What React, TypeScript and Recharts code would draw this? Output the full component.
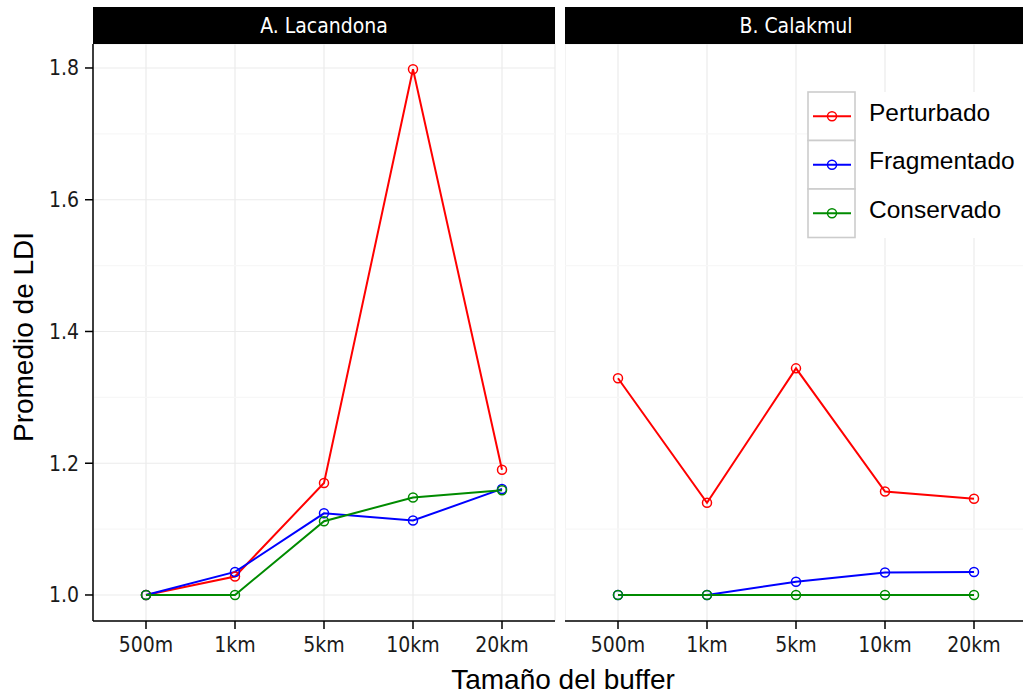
import { LineChart, Line, XAxis, YAxis, CartesianGrid, ReferenceLine } from "recharts"

const categories = ["500m", "1km", "5km", "10km", "20km"]
const seriesNames = ["Perturbado", "Fragmentado", "Conservado"]
const seriesColors = ["#ff0000", "#0000ff", "#008b00"]

const lacandonaPerturbado = [1.0, 1.028, 1.17, 1.798, 1.19]
const lacandonaFragmentado = [1.0, 1.035, 1.124, 1.113, 1.161]
const lacandonaConservado = [1.0, 1.0, 1.112, 1.148, 1.159]

const calakmulPerturbado = [1.329, 1.14, 1.344, 1.157, 1.146]
const calakmulFragmentado = [1.0, 1.0, 1.02, 1.034, 1.035]
const calakmulConservado = [1.0, 1.0, 1.0, 1.0, 1.0]

const yTicks = [1.0, 1.2, 1.4, 1.6, 1.8]
const yMinor = [1.1, 1.3, 1.5, 1.7]
const yDomain = [0.9605, 1.8364]

const tickFont = "'DejaVu Sans Condensed', 'DejaVu Sans', sans-serif"
const titleFont = "'Liberation Sans', Arial, sans-serif"

function buildRows(p: number[], f: number[], c: number[]) {
  return categories.map((name, i) => ({
    name,
    Perturbado: p[i],
    Fragmentado: f[i],
    Conservado: c[i],
  }))
}

const lacandonaData = buildRows(lacandonaPerturbado, lacandonaFragmentado, lacandonaConservado)
const calakmulData = buildRows(calakmulPerturbado, calakmulFragmentado, calakmulConservado)

const tickStyle = { fontFamily: tickFont, fontSize: 21, fill: "#1a1a1a" }

function Panel({ data, width, left, showY, rightMargin }: any) {
  return (
    <div style={{ position: "absolute", left, top: 0 }}>
      <LineChart
        width={width}
        height={694}
        data={data}
        margin={{ top: 44, right: rightMargin, bottom: 43, left: 0 }}
      >
        <CartesianGrid stroke="#ebebeb" strokeWidth={1.2} />
        {yMinor.map((v) => (
          <ReferenceLine key={v} y={v} stroke="#f7f7f7" strokeWidth={1.2} />
        ))}
        <XAxis
          dataKey="name"
          padding={{ left: 53, right: 53 }}
          height={30}
          tickSize={8}
          tickMargin={8}
          tick={tickStyle}
          axisLine={{ stroke: "#000", strokeWidth: 1.5 }}
          tickLine={{ stroke: "#000", strokeWidth: 1.5 }}
        />
        {showY ? (
          <YAxis
            domain={yDomain}
            ticks={yTicks}
            allowDataOverflow
            width={93}
            tickSize={8}
            tickMargin={6}
            tick={tickStyle}
            tickFormatter={(v: number) => v.toFixed(1)}
            axisLine={{ stroke: "#000", strokeWidth: 1.5 }}
            tickLine={{ stroke: "#000", strokeWidth: 1.5 }}
          />
        ) : (
          <YAxis
            domain={yDomain}
            ticks={yTicks}
            allowDataOverflow
            width={0}
            tick={false}
            tickLine={false}
            axisLine={{ stroke: "#000", strokeWidth: 1.5 }}
          />
        )}
        <YAxis
          yAxisId="r"
          orientation="right"
          domain={yDomain}
          allowDataOverflow
          width={0}
          tick={false}
          tickLine={false}
          axisLine={{ stroke: "#000", strokeWidth: 1.5 }}
        />
        {seriesNames.map((s, i) => (
          <Line
            key={s}
            dataKey={s}
            stroke={seriesColors[i]}
            strokeWidth={2}
            dot={{ r: 4.5, strokeWidth: 1.5, fill: "none", stroke: seriesColors[i] }}
            activeDot={false}
            isAnimationActive={false}
          />
        ))}
      </LineChart>
    </div>
  )
}

export default function App() {
  return (
    <div
      style={{
        position: "absolute",
        left: 0,
        top: 0,
        width: 1023,
        height: 694,
        overflow: "hidden",
        background: "#fff",
      }}
    >
      <Panel data={lacandonaData} width={560} left={0} showY rightMargin={5} />
      <Panel data={calakmulData} width={470} left={565} showY={false} rightMargin={8} />

      <svg
        width={1023}
        height={694}
        style={{ position: "absolute", left: 0, top: 0, pointerEvents: "none" }}
      >
        <rect x={93} y={7} width={462} height={37} fill="#000" />
        <text x={324} y={33} fill="#fff" fontFamily={tickFont} fontSize={21} textAnchor="middle">
          A. Lacandona
        </text>
        <rect x={565} y={7} width={470} height={37} fill="#000" />
        <text x={796} y={33} fill="#fff" fontFamily={tickFont} fontSize={21} textAnchor="middle">
          B. Calakmul
        </text>

        <text x={563} y={689} fontFamily={titleFont} fontSize={28} textAnchor="middle" fill="#000">
          Tamaño del buffer
        </text>
        <text
          transform="translate(33 337) rotate(-90)"
          fontFamily={titleFont}
          fontSize={28}
          textAnchor="middle"
          fill="#000"
        >
          Promedio de LDI
        </text>

        <rect x={808} y={92} width={230} height={146} fill="#fff" />
        {seriesNames.map((s, i) => {
          const y = 92 + i * 48.5
          const cy = y + 24.25
          return (
            <g key={s}>
              <rect x={808} y={y} width={47} height={48.5} fill="#fff" stroke="#cccccc" strokeWidth={1.6} />
              <line x1={813} x2={851} y1={cy} y2={cy} stroke={seriesColors[i]} strokeWidth={2} />
              <circle cx={832} cy={cy} r={4.5} fill="none" stroke={seriesColors[i]} strokeWidth={1.5} />
              <text x={869} y={cy + 4.5} fontFamily={titleFont} fontSize={24.5} fill="#000">
                {s}
              </text>
            </g>
          )
        })}
      </svg>
    </div>
  )
}
